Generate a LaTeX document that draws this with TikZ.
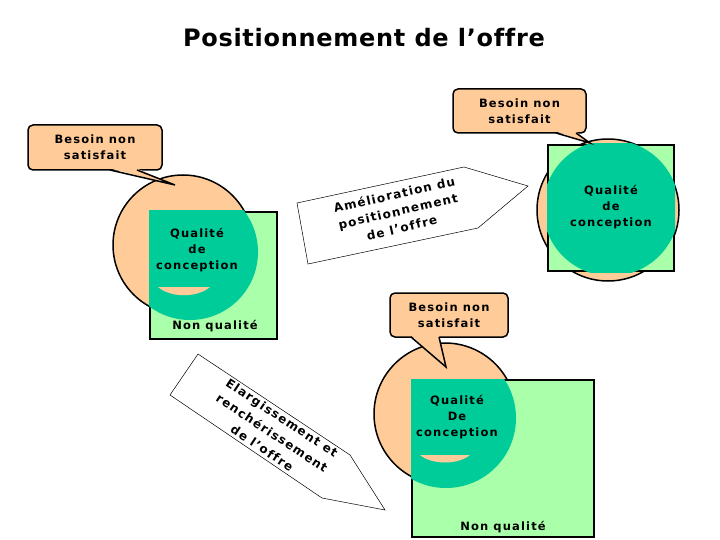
\documentclass[tikz,border=0pt]{standalone}
\usepackage{fontspec}
\setmainfont{DejaVu Sans}
\newfontfamily\lblfont{DejaVu Sans}[LetterSpace=10,Ligatures=NoCommon]
\newfontfamily\titlefont{DejaVu Sans}[LetterSpace=3,Ligatures=NoCommon]
\definecolor{peau}{RGB}{255,204,153}
\definecolor{vertclair}{RGB}{170,255,170}
\definecolor{turquoise}{RGB}{0,204,153}
\tikzset{
  besoin/.style={draw,fill=peau,rounded corners=5pt,line width=1.5pt},
  txt/.style={font=\lblfont\bfseries\fontsize{11.5}{16}\selectfont,align=center,inner sep=0pt},
  fleche/.style={draw,line width=0.5pt,fill=white},
}

\begin{document}
\begin{tikzpicture}[x=1pt,y=-1pt]
  \useasboundingbox (0,0) rectangle (720,540);
  \node[font=\titlefont\bfseries\fontsize{24}{28}\selectfont] (titre) at (364,38) {Positionnement de l’offre};

  % groupe 1 (haut gauche)
  \coordinate (O1) at (183,245); \coordinate (T1) at (190,252);
  \draw[fill=peau,line width=1.5pt] (O1) circle (70);
  \draw[fill=vertclair,line width=1.5pt] (150,212) rectangle (277,339);
  \begin{scope}
    \clip (149,211) rectangle (278,340);
    \fill[turquoise] (T1) circle (68);
  \end{scope}
  \fill[peau] (158,287) -- (210,287) .. controls (197,298) and (171,298) .. cycle;
  \node[txt] (q1) at (197,250) {Qualité\\de\\conception};
  \node[txt] (nq1) at (215,326) {Non qualité};
  \node[besoin,txt,minimum width=134pt,minimum height=45pt] (b1) at (95,147.5) {Besoin non\\satisfait};
  \fill[peau] (110,168.5) -- (175,185) -- (137,168.5) -- cycle;
  \draw[line width=1.5pt] (110,170) -- (175,185) -- (137,170);

  % groupe 2 (haut droite)
  \coordinate (O2) at (608,210); \coordinate (T2) at (611,208);
  \draw[fill=peau,line width=1.5pt] (O2) circle (71);
  \draw[fill=vertclair,line width=1.5pt] (548,145) rectangle (674,271);
  \begin{scope}
    \clip (547,144) rectangle (675,272);
    \fill[turquoise] (T2) circle (68);
  \end{scope}
  \node[txt] (q2) at (611,207) {Qualité\\de\\conception};
  \node[besoin,txt,minimum width=133pt,minimum height=44pt] (b2) at (519.5,111) {Besoin non\\satisfait};
  \fill[peau] (556,131.5) -- (590,143) -- (576,131.5) -- cycle;
  \draw[line width=1.5pt] (556,133) -- (590,143) -- (576,133);

  % groupe 3 (bas)
  \coordinate (O3) at (445,414); \coordinate (T3) at (446,418);
  \draw[fill=peau,line width=1.5pt] (O3) circle (71);
  \draw[fill=vertclair,line width=1.5pt] (412,380) rectangle (594,537);
  \begin{scope}
    \clip (411,379) rectangle (595,538);
    \fill[turquoise] (T3) circle (70);
  \end{scope}
  \fill[peau] (420,455) -- (470,455) .. controls (458,465) and (432,465) .. cycle;
  \node[txt] (q3) at (457,417) {Qualité\\De\\conception};
  \node[txt] (nq3) at (503,527) {Non qualité};
  \node[besoin,txt,minimum width=118pt,minimum height=44pt] (b3) at (449,315) {Besoin non\\satisfait};
  \fill[peau] (411,335.5) -- (446,367) -- (439,335.5) -- cycle;
  \draw[line width=1.5pt] (411,337) -- (446,367) -- (439,337);

  % fleches
  \draw[fleche] (297,203) -- (464,167) -- (528,186) -- (478,228) -- (308,264) -- cycle;
  \node[txt,font=\lblfont\bfseries\fontsize{12}{17}\selectfont,rotate=13] (ameli) at (398,211)
    {Amélioration du\\positionnement\\de l’offre};
  \draw[fleche] (198,354) -- (350,455) -- (385,510) -- (322,498) -- (170,395) -- cycle;
  \node[txt,font=\lblfont\bfseries\fontsize{12}{18}\selectfont,rotate=-33.5] (elarg) at (272,433)
    {Elargissement et\\renchérissement\\de l’offre};
\end{tikzpicture}
\end{document}
